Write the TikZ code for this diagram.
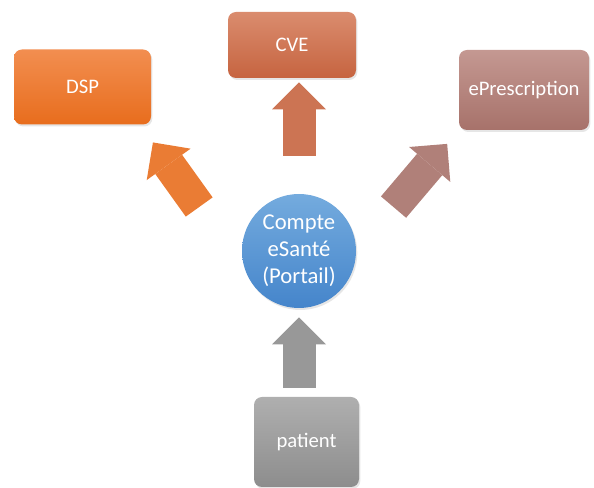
\documentclass[tikz,border=0pt]{standalone}
\usepackage{fontspec}
\setmainfont{Carlito}
\usetikzlibrary{arrows.meta,calc,shadows}

\definecolor{dspTop}{HTML}{F28E50}
\definecolor{dspBot}{HTML}{E86D1D}
\definecolor{cveTop}{HTML}{DA8C6E}
\definecolor{cveBot}{HTML}{C66440}
\definecolor{presTop}{HTML}{C49892}
\definecolor{presBot}{HTML}{A7726A}
\definecolor{portTop}{HTML}{74ABDE}
\definecolor{portBot}{HTML}{4585CB}
\definecolor{patTop}{HTML}{AFAFAF}
\definecolor{patBot}{HTML}{8D8D8D}

\begin{document}
\begin{tikzpicture}[x=0.75pt, y=-0.75pt,
    box/.style={rectangle, rounded corners=6pt, text=white, font=\fontsize{15.5}{19}\selectfont, drop shadow={opacity=0.2, shadow xshift=1pt, shadow yshift=-1.5pt}},
    blockarrow/.style={line width=24.75pt, -{Triangle[width=40.5pt, length=20.25pt, line width=0pt]}},
]
    \useasboundingbox (0,0) rectangle (594,488);

    \node[box, top color=dspTop, bottom color=dspBot, minimum width=102.75pt, minimum height=56.25pt] (dsp) at (82.5,87) {DSP};
    \node[box, top color=cveTop, bottom color=cveBot, minimum width=96pt, minimum height=49.5pt] (cve) at (292,45) {CVE};
    \node[box, top color=presTop, bottom color=presBot, minimum width=97.5pt, minimum height=60pt] (epres) at (524,90) {ePrescription};
    \node[circle, top color=portTop, bottom color=portBot, minimum size=85.5pt, inner sep=0pt, align=center, text=white, font=\fontsize{17}{20.25}\selectfont, drop shadow={opacity=0.2, shadow xshift=1pt, shadow yshift=-1.5pt}] (centre) at (299,251) {Compte\\eSanté\\(Portail)};
    \node[box, top color=patTop, bottom color=patBot, minimum width=78.75pt, minimum height=67.5pt] (patient) at (306.5,442) {patient};

    \draw[blockarrow, dspBot!90!white, shorten <=40.6pt, shorten >=16.3pt] ($(centre.west)+(-11,0)$) -- ($(dsp.south east)+(-11,0)$);
    \draw[blockarrow, cveBot!90!white, shorten <=28.5pt, shorten >=3pt] (centre.north) -- (centre.north |- cve.south);
    \draw[blockarrow, presBot!90!white, shorten <=43.2pt, shorten >=13.4pt] (centre.east) -- (epres.south west);
    \draw[blockarrow, patBot!90!white, shorten <=6.75pt, shorten >=6.75pt] (patient.north -| centre) -- (centre.south);
\end{tikzpicture}
\end{document}
